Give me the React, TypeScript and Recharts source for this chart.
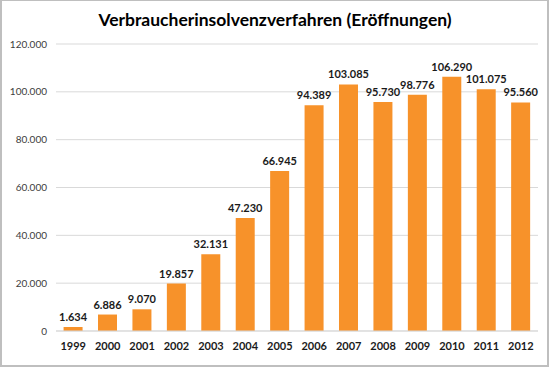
import React from "react";
import { BarChart, Bar, XAxis, YAxis, CartesianGrid, LabelList } from "recharts";

const years = ["1999", "2000", "2001", "2002", "2003", "2004", "2005", "2006", "2007", "2008", "2009", "2010", "2011", "2012"];
const values = [1634, 6886, 9070, 19857, 32131, 47230, 66945, 94389, 103085, 95730, 98776, 106290, 101075, 95560];
const yTicks = [0, 20000, 40000, 60000, 80000, 100000, 120000];
const title = "Verbraucherinsolvenzverfahren (Eröffnungen)";

const data = years.map((y, i) => ({ year: y, value: values[i] }));

const fmt = (v: number) => (v === 0 ? "0" : v.toLocaleString("de-DE"));

const FONT = "Lato, 'Open Sans', sans-serif";

export default function App() {
  return (
    <div style={{ position: "absolute", left: 0, top: 0, width: 550, height: 369, background: "#fff", fontFamily: FONT }}>
      <div
        style={{
          position: "absolute",
          left: 0,
          top: 0,
          width: 545,
          height: 364,
          border: "2px solid #bfbfbf",
          borderTopWidth: 1,
          borderLeftWidth: 2,
        }}
      />
      <div
        style={{
          position: "absolute",
          left: 0,
          top: 8,
          width: 550,
          textAlign: "center",
          fontSize: 17.5,
          fontWeight: 700,
          color: "#000",
          lineHeight: "24px",
        }}
      >
        {title}
      </div>
      <div style={{ position: "absolute", left: 0, top: 0 }}>
        <BarChart
          width={550}
          height={369}
          data={data}
          margin={{ top: 44, right: 12, bottom: 0, left: 0 }}
          barCategoryGap="22%"
        >
          <CartesianGrid vertical={false} stroke="#d9d9d9" strokeWidth={1} />
          <XAxis
            dataKey="year"
            height={38}
            axisLine={{ stroke: "#d9d9d9" }}
            tickLine={false}
            tickSize={0}
            tickMargin={11}
            interval={0}
            tick={{ fontSize: 11, fontWeight: 700, fill: "#1a1a1a", fontFamily: FONT }}
          />
          <YAxis
            width={56}
            domain={[0, 120000]}
            ticks={yTicks}
            tickFormatter={fmt}
            axisLine={false}
            tickLine={false}
            tickSize={0}
            tickMargin={9}
            tick={{ fontSize: 10, fill: "#404040", fontFamily: FONT }}
          />
          <Bar dataKey="value" fill="#F7922A" isAnimationActive={false}>
            <LabelList
              dataKey="value"
              position="top"
              offset={6}
              formatter={(v: any) => fmt(Number(v))}
              style={{ fontSize: 11, fontWeight: 700, fill: "#1a1a1a", fontFamily: FONT }}
            />
          </Bar>
        </BarChart>
      </div>
    </div>
  );
}
